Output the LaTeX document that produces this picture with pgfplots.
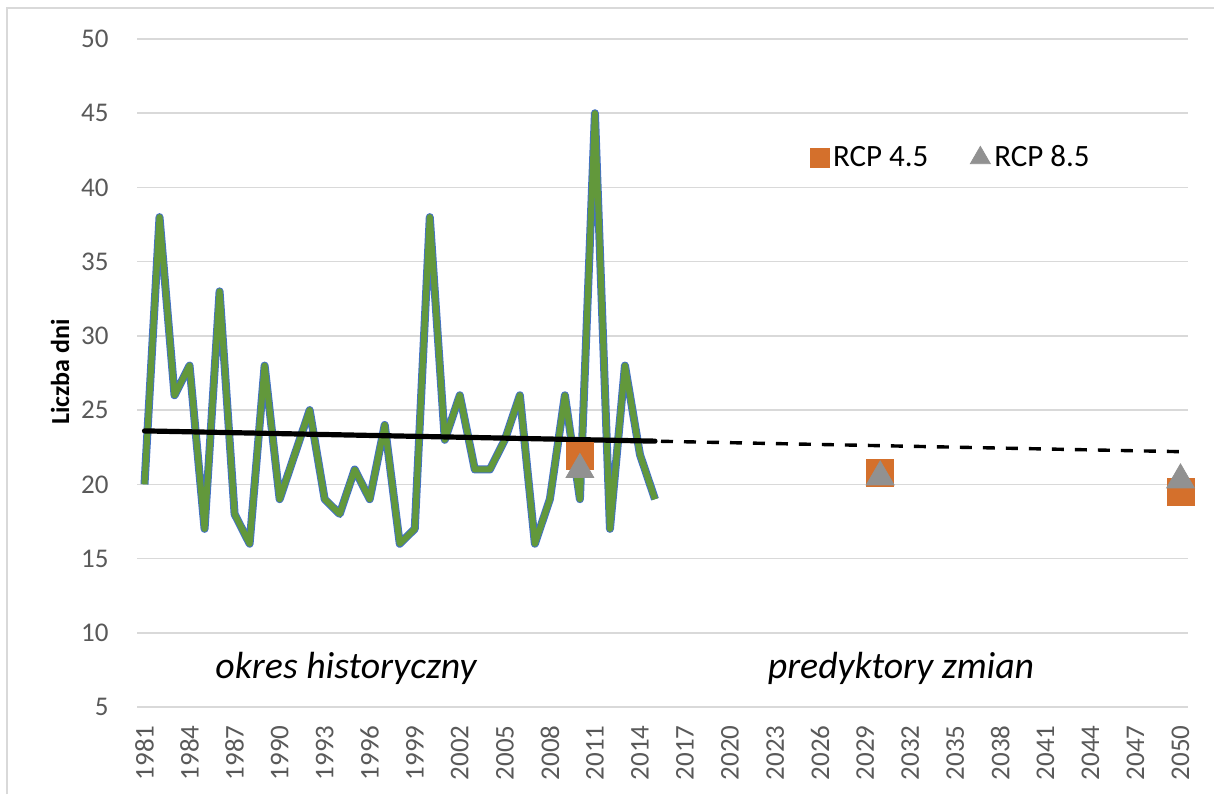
\documentclass[border=0pt]{standalone}
\usepackage{pgfplots}
\pgfplotsset{compat=1.18}
\usepackage{fontspec}
\setmainfont{Carlito}
\definecolor{lgreen}{RGB}{98,152,59}
\definecolor{lblue}{RGB}{68,114,196}
\definecolor{rorange}{RGB}{212,112,44}
\definecolor{rgray}{RGB}{145,145,145}
\definecolor{gridc}{RGB}{217,217,217}
\definecolor{tickc}{RGB}{89,89,89}
\begin{document}
\begin{tikzpicture}
\useasboundingbox (0,0) rectangle (607pt,397pt);
\draw[gridc, line width=0.75pt] (3.5pt,0) -- (3.5pt,393pt) -- (607pt,393pt);
\begin{axis}[
  at={(68.5pt,43.5pt)}, anchor=south west,
  scale only axis, width=525.5pt, height=334pt,
  xmin=1980.5, xmax=2050.5, ymin=5, ymax=50,
  xtick={1981,1984,...,2050}, ytick={5,10,...,50},
  axis line style={draw=none}, major tick length=0pt,
  ymajorgrids, grid style={gridc, line width=0.75pt},
  /pgf/number format/assume math mode=true,
  /pgf/number format/1000 sep={},
  xticklabel style={yshift=-9pt, rotate=90, anchor=east, inner sep=0pt, font=\fontsize{13.5}{14}\selectfont, text=tickc},
  yticklabel style={xshift=-14pt, anchor=east, inner sep=0pt, font=\fontsize{13.5}{14}\selectfont, text=tickc},
  clip=false,
  legend style={at={(0.640,0.822)}, anchor=west, draw=none, fill=none, legend columns=2,
    font=\fontsize{15.5}{16}\selectfont, inner sep=0pt,
    /tikz/every even column/.append style={column sep=19pt}},
  legend image code/.code={\draw[#1] plot coordinates {(0pt,0pt)};},
]
\addplot[lblue, line width=4pt, line join=round, forget plot] coordinates {
(1981,20) (1982,38) (1983,26) (1984,28) (1985,17) (1986,33) (1987,18) (1988,16) (1989,28) (1990,19)
(1991,22) (1992,25) (1993,19) (1994,18) (1995,21) (1996,19) (1997,24) (1998,16) (1999,17) (2000,38)
(2001,23) (2002,26) (2003,21) (2004,21) (2005,23) (2006,26) (2007,16) (2008,19) (2009,26) (2010,19)
(2011,45) (2012,17) (2013,28) (2014,22) (2015,19)};
\addplot[lgreen, line width=3pt, line join=round, forget plot] coordinates {
(1981,20) (1982,38) (1983,26) (1984,28) (1985,17) (1986,33) (1987,18) (1988,16) (1989,28) (1990,19)
(1991,22) (1992,25) (1993,19) (1994,18) (1995,21) (1996,19) (1997,24) (1998,16) (1999,17) (2000,38)
(2001,23) (2002,26) (2003,21) (2004,21) (2005,23) (2006,26) (2007,16) (2008,19) (2009,26) (2010,19)
(2011,45) (2012,17) (2013,28) (2014,22) (2015,19)};
\addplot[black, line width=2.6pt, line cap=round, forget plot] coordinates {(1981,23.6) (2015,22.91)};
\addplot[black, line width=1.7pt, dash pattern=on 6pt off 5.5pt, forget plot] coordinates {(2015.4,22.9) (2050,22.2)};
\addplot[only marks, mark=square*, rorange, mark size=6.75pt, forget plot] coordinates {(2010,21.9) (2030,20.8) (2050,19.5)};
\addplot[only marks, mark=triangle*, rgray, mark size=8pt, forget plot] coordinates {(2010,21.0) (2030,20.5) (2050,20.3)};
\addlegendimage{only marks, mark=square*, rorange, mark size=4.75pt}
\addlegendentry{RCP 4.5}
\addlegendimage{only marks, mark=triangle*, rgray, mark size=5.75pt}
\addlegendentry{RCP 8.5}
\end{axis}
\node[rotate=90, font=\bfseries\fontsize{13}{14}\selectfont] at (30pt,211pt) {Liczba dni};
\node[anchor=base, font=\itshape\fontsize{18.9}{20}\selectfont] at (173pt,58pt) {okres historyczny};
\node[anchor=base, font=\itshape\fontsize{18.9}{20}\selectfont] at (450.5pt,58pt) {predyktory zmian};
\end{tikzpicture}
\end{document}
